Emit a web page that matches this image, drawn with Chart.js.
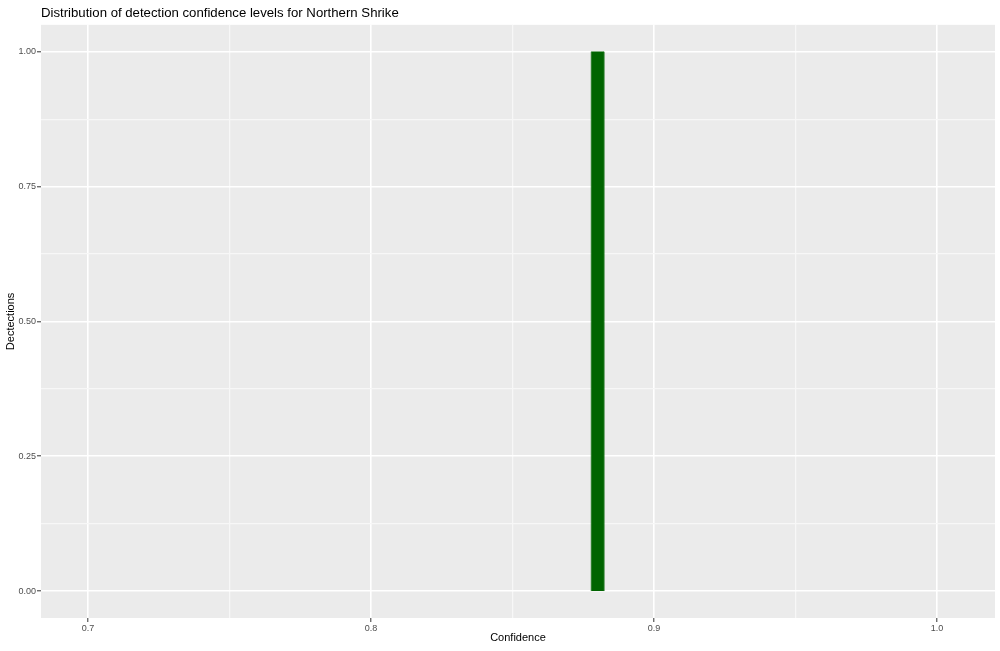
<!DOCTYPE html>
<html>
<head>
<meta charset="utf-8">
<script src="https://cdn.jsdelivr.net/npm/chart.js@4/dist/chart.umd.min.js"></script>
<style>
  html, body { margin: 0; padding: 0; background: #fff; }
  #wrap { width: 1000px; height: 651px; }
</style>
</head>
<body>
<div id="wrap"><canvas id="histChart"></canvas></div>
<script>
// histogram bins (edges) and counts
const binStart = [0.8778];
const binEnd = [0.8823];
const counts = [1];

const xMajor = [0.7, 0.8, 0.9, 1.0];
const xMinor = [0.75, 0.85, 0.95];
const yMajor = [0, 0.25, 0.5, 0.75, 1.0];
const yMinor = [0.125, 0.375, 0.625, 0.875];

// build histogram outline points from bins
const histPoints = [];
binStart.forEach((b, i) => {
    histPoints.push({ x: b, y: 0 });
    histPoints.push({ x: b, y: counts[i] });
    histPoints.push({ x: binEnd[i], y: counts[i] });
    histPoints.push({ x: binEnd[i], y: 0 });
});

const isMajor = (list, v) => list.some(m => Math.abs(m - v) < 1e-9);

// grey panel behind the plot area
const panelBg = {
    id: 'panelBg',
    beforeDraw(chart) {
        const a = chart.chartArea;
        const ctx = chart.ctx;
        ctx.save();
        ctx.fillStyle = '#EBEBEB';
        ctx.fillRect(a.left, a.top, a.right - a.left, a.bottom - a.top);
        ctx.restore();
    }
};

const ctx = document.getElementById('histChart').getContext('2d');

new Chart(ctx, {
    type: 'line',
    data: {
        datasets: [{
            label: 'Detections',
            data: histPoints,
            borderColor: '#006400',
            backgroundColor: '#006400',
            borderWidth: 0.5,
            fill: 'origin',
            pointRadius: 0,
            tension: 0
        }]
    },
    options: {
        responsive: true,
        maintainAspectRatio: false,
        animation: false,
        layout: { padding: { left: 0, right: 5, top: 0, bottom: 0 } },
        plugins: {
            legend: { display: false },
            tooltip: { enabled: false },
            title: {
                display: true,
                text: 'Distribution of detection confidence levels for Northern Shrike',
                align: 'start',
                fullSize: false,
                color: '#000',
                font: { family: '"Liberation Sans", Arial, sans-serif', size: 13.2, weight: 'normal' },
                padding: { top: 5, bottom: 4 }
            }
        },
        scales: {
            x: {
                type: 'linear',
                min: 0.6834,
                max: 1.0205,
                afterBuildTicks: s => { s.ticks = [...xMajor, ...xMinor].sort((a, b) => a - b).map(v => ({ value: v })); },
                afterFit: s => { s.height = 33; },
                ticks: {
                    autoSkip: false,
                    maxRotation: 0,
                    padding: 1,
                    color: '#4D4D4D',
                    font: { family: '"Liberation Sans", Arial, sans-serif', size: 9 },
                    callback: v => isMajor(xMajor, v) ? v.toFixed(1) : ''
                },
                grid: {
                    color: c => isMajor(xMajor, c.tick.value) ? '#FFFFFF' : '#F7F7F7',
                    lineWidth: c => isMajor(xMajor, c.tick.value) ? 1.6 : 1.2,
                    tickColor: c => isMajor(xMajor, c.tick.value) ? '#333333' : 'rgba(0,0,0,0)',
                    tickLength: 4,
                    tickWidth: 1,
                    drawOnChartArea: true
                },
                border: { display: false },
                title: {
                    display: true,
                    text: 'Confidence',
                    color: '#000',
                    font: { family: '"Liberation Sans", Arial, sans-serif', size: 11 },
                    padding: { top: 0, bottom: 6 }
                }
            },
            y: {
                type: 'linear',
                min: -0.05,
                max: 1.05,
                afterBuildTicks: s => { s.ticks = [...yMajor, ...yMinor].sort((a, b) => a - b).map(v => ({ value: v })); },
                afterFit: s => { s.width = 41; },
                ticks: {
                    autoSkip: false,
                    padding: 1,
                    color: '#4D4D4D',
                    font: { family: '"Liberation Sans", Arial, sans-serif', size: 9 },
                    callback: v => isMajor(yMajor, v) ? v.toFixed(2) : ''
                },
                grid: {
                    color: c => isMajor(yMajor, c.tick.value) ? '#FFFFFF' : '#F7F7F7',
                    lineWidth: c => isMajor(yMajor, c.tick.value) ? 1.6 : 1.2,
                    tickColor: c => isMajor(yMajor, c.tick.value) ? '#333333' : 'rgba(0,0,0,0)',
                    tickLength: 4,
                    tickWidth: 1
                },
                border: { display: false },
                title: {
                    display: true,
                    text: 'Dectections',
                    color: '#000',
                    font: { family: '"Liberation Sans", Arial, sans-serif', size: 11 },
                    padding: { top: 4, bottom: 0 }
                }
            }
        }
    },
    plugins: [panelBg]
});
</script>
</body>
</html>
